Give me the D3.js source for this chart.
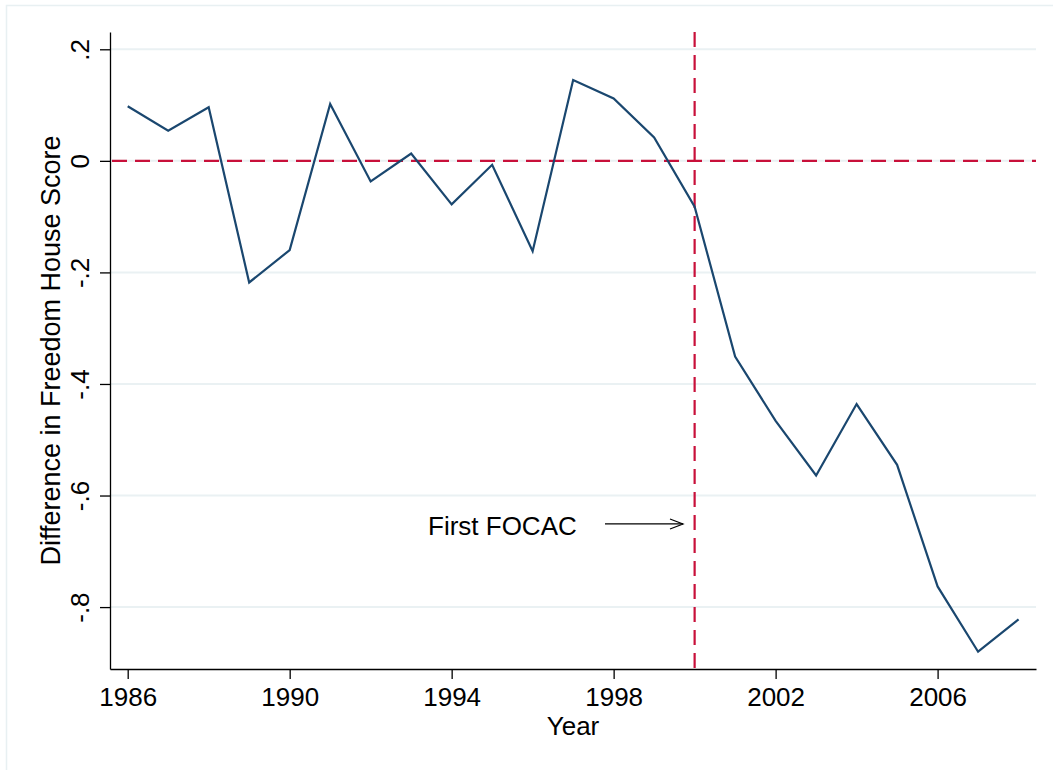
<!DOCTYPE html>
<html>
<head>
<meta charset="utf-8">
<script src="https://cdn.jsdelivr.net/npm/d3@7"></script>
<style>
  html, body { margin: 0; padding: 0; background: #fff; }
  svg { display: block; font-family: "Liberation Sans", Arial, Helvetica, sans-serif; }
</style>
</head>
<body>
<svg id="chart" width="1053" height="770"></svg>
<script>
const years = [1986,1987,1988,1989,1990,1991,1992,1993,1994,1995,1996,1997,1998,1999,2000,2001,2002,2003,2004,2005,2006,2007,2008];
const diffScore = [0.098,0.054,0.096,-0.218,-0.160,0.102,-0.037,0.013,-0.078,-0.007,-0.162,0.145,0.112,0.042,-0.082,-0.351,-0.466,-0.564,-0.436,-0.545,-0.763,-0.880,-0.822];
const xTicks = [1986,1990,1994,1998,2002,2006];
const yTicks = [0.2,0,-0.2,-0.4,-0.6,-0.8];
const yTickLabels = [".2","0","-.2","-.4","-.6","-.8"];
const refYear = 2000;
const refValue = 0;
const annotationText = "First FOCAC";
const xTitle = "Year";
const yTitle = "Difference in Freedom House Score";

const svg = d3.select("#chart");
const L = 110, R = 1036, T = 32, B = 669;
const FS = 26;

const x = d3.scaleLinear().domain([1985.563, 2008.43]).range([L, R]);
const y = d3.scaleLinear().domain([-0.911, 0.231]).range([B, T]);

// outer graph region frame
svg.append("rect").attr("x", 6.5).attr("y", 5.5).attr("width", 1060).attr("height", 780)
  .attr("fill", "#fff").attr("stroke", "#e8f0f2").attr("stroke-width", 1.5);

// gridlines
svg.append("g").selectAll("line").data(yTicks).join("line")
  .attr("x1", L).attr("x2", R)
  .attr("y1", d => y(d)).attr("y2", d => y(d))
  .attr("stroke", "#eaf1f3").attr("stroke-width", 2);

// reference lines
svg.append("line")
  .attr("x1", L).attr("x2", R).attr("y1", y(refValue)).attr("y2", y(refValue))
  .attr("stroke", "#c8103a").attr("stroke-width", 2.2).attr("stroke-dasharray", "15,8")
  .attr("stroke-dashoffset", -2);
svg.append("line")
  .attr("x1", x(refYear)).attr("x2", x(refYear)).attr("y1", T).attr("y2", B)
  .attr("stroke", "#c8103a").attr("stroke-width", 2.2).attr("stroke-dasharray", "15,8");

// data line
const line = d3.line().x((d, i) => x(years[i])).y(d => y(d));
svg.append("path").datum(diffScore)
  .attr("d", line).attr("fill", "none")
  .attr("stroke", "#1a476f").attr("stroke-width", 2.2).attr("stroke-linejoin", "miter");

// axes
const xAxis = d3.axisBottom(x).tickValues(xTicks).tickFormat(d3.format("d")).tickSize(10).tickSizeOuter(0);
const gx = svg.append("g").attr("transform", `translate(0,${B})`).call(xAxis);
gx.attr("font-family", null).attr("font-size", null);
gx.select(".domain").attr("stroke", "#000").attr("stroke-width", 1.3);
gx.selectAll(".tick line").attr("stroke", "#000").attr("stroke-width", 1.3);
gx.selectAll(".tick text").attr("font-size", FS).attr("fill", "#000")
  .attr("y", 0).attr("dy", 0).attr("transform", "translate(0,36.5)");

const yAxis = d3.axisLeft(y).tickValues(yTicks).tickFormat((d, i) => yTickLabels[i]).tickSize(10).tickSizeOuter(0);
const gy = svg.append("g").attr("transform", `translate(${L},0)`).call(yAxis);
gy.attr("font-family", null).attr("font-size", null);
gy.select(".domain").attr("stroke", "#000").attr("stroke-width", 1.3);
gy.selectAll(".tick line").attr("stroke", "#000").attr("stroke-width", 1.3);
gy.selectAll(".tick text").attr("font-size", FS).attr("fill", "#000")
  .attr("x", 0).attr("dy", 0).attr("text-anchor", "middle")
  .attr("transform", "translate(-21,0) rotate(-90)");

// titles
svg.append("text").attr("x", (L + R) / 2).attr("y", 735)
  .attr("text-anchor", "middle").attr("font-size", FS).text(xTitle);
svg.append("text").attr("transform", `translate(59.5,${(T + B) / 2}) rotate(-90)`)
  .attr("text-anchor", "middle").attr("font-size", 27).text(yTitle);

// annotation
svg.append("text").attr("x", 428).attr("y", 535).attr("font-size", FS).text(annotationText);
const ay = y(-0.651);
svg.append("line").attr("x1", 605).attr("x2", 683).attr("y1", ay).attr("y2", ay)
  .attr("stroke", "#000").attr("stroke-width", 1.2);
svg.append("path").attr("d", `M${683 - 13},${ay - 5} L${683},${ay} L${683 - 13},${ay + 5}`)
  .attr("fill", "none").attr("stroke", "#000").attr("stroke-width", 1.2);
</script>
</body>
</html>
